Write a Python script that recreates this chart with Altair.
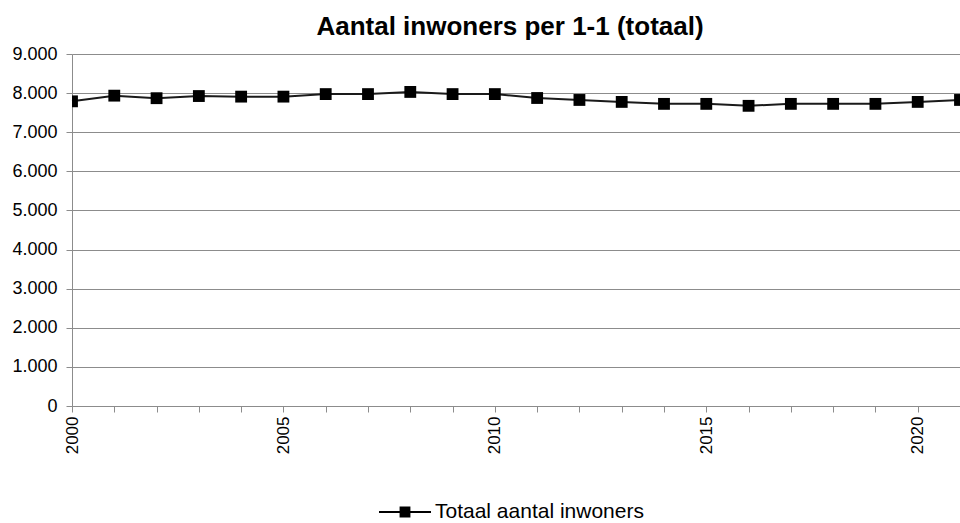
import altair as alt
import pandas as pd

years = list(range(2000, 2022))
inwoners = [7790, 7935, 7870, 7925, 7910, 7910, 7975, 7975, 8030, 7975, 7975,
            7875, 7825, 7775, 7725, 7725, 7675, 7725, 7725, 7725, 7775, 7825]
series_name = "Totaal aantal inwoners"
title_text = "Aantal inwoners per 1-1 (totaal)"

df = pd.DataFrame({"jaar": years, "inwoners": inwoners, "reeks": series_name})

FONT = "Liberation Sans"
GRID = "#8c8c8c"

x = alt.X("jaar:Q",
          scale=alt.Scale(domain=[2000, 2021], nice=False, zero=False),
          axis=alt.Axis(values=years, labelExpr="datum.value % 5 == 0 ? datum.value : ''",
                        labelAngle=-90, labelAlign="right", labelBaseline="middle",
                        labelFontSize=17, labelColor="black", labelFont=FONT,
                        tickSize=6, tickColor=GRID, domainColor=GRID, labelPadding=4,
                        grid=False, title=None, labelOverlap=False))
y = alt.Y("inwoners:Q",
          scale=alt.Scale(domain=[0, 9000], nice=False),
          axis=alt.Axis(values=list(range(0, 9001, 1000)),
                        labelExpr="replace(format(datum.value, ','), ',', '.')",
                        labelFontSize=18, labelColor="black", labelFont=FONT,
                        tickSize=6, tickColor=GRID, domainColor=GRID, labelPadding=9,
                        grid=True, gridColor=GRID, gridWidth=1, title=None))

color = alt.Color("reeks:N", scale=alt.Scale(range=["black"]),
                  legend=alt.Legend(title=None, orient="none", legendX=306, legendY=431,
                                    symbolType="M-1,0H1M-0.17,-0.17H0.17V0.17H-0.17Z",
                                    symbolSize=2704, symbolStrokeWidth=2,
                                    symbolStrokeColor="black", symbolFillColor="black",
                                    labelFontSize=21, labelFont=FONT, labelColor="black",
                                    labelOffset=3, labelLimit=400))

line = alt.Chart(df).mark_line(color="#1a1a1a", strokeWidth=2).encode(x=x, y=y)
points = alt.Chart(df).mark_point(shape="square", filled=True, size=140, opacity=1,
                                  clip=True).encode(x=x, y=y, color=color)

chart = alt.layer(line, points).properties(
    width=888, height=352,
    title=alt.TitleParams(title_text, font=FONT, fontSize=26, fontWeight="bold",
                          color="black", anchor="middle", offset=5, dx=-6),
    autosize=alt.AutoSizeParams(type="none"),
    padding={"left": 72, "top": 54, "right": 0, "bottom": 117},
).configure_view(stroke=None).configure(background="white")

chart.save("out.html", embed_options={"renderer": "svg", "actions": False})
